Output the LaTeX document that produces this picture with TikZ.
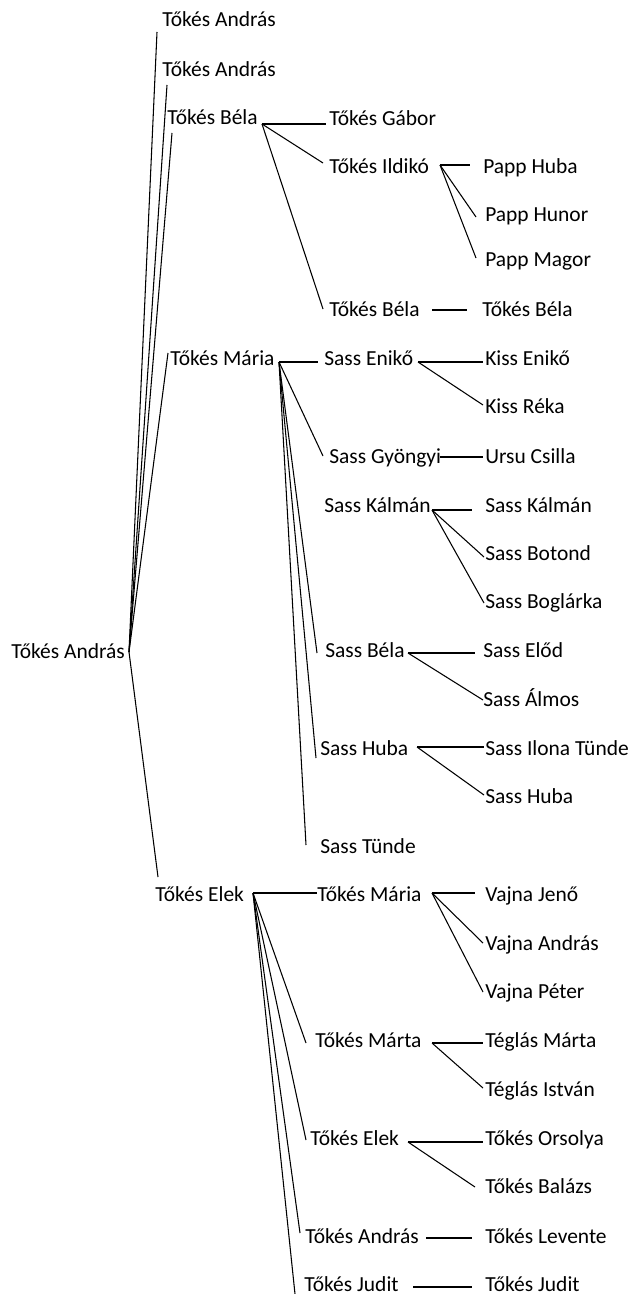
\documentclass[tikz,border=0pt]{standalone}
\usepackage{fontspec}
\setmainfont{Carlito}
\begin{document}
\begin{tikzpicture}[x=0.75pt,y=-0.75pt,
  person/.style={anchor=base west,inner sep=0pt,font=\fontsize{16.1}{18}\selectfont},
  link/.style={line width=0.8pt,black}]
\useasboundingbox (0,0) rectangle (629,1294);

% ---- people (text placed by baseline) ----
\node[person] (r)  at (11,658)  {Tőkés András};

\node[person] (a1) at (162,27)  {Tőkés András};
\node[person] (a2) at (162,77)  {Tőkés András};
\node[person] (a3) at (167,125) {Tőkés Béla};
\node[person] (a4) at (170,365) {Tőkés Mária};
\node[person] (a5) at (155,901) {Tőkés Elek};

\node[person] (b1) at (329,126) {Tőkés Gábor};
\node[person] (b2) at (329,174) {Tőkés Ildikó};
\node[person] (b3) at (329,316) {Tőkés Béla};

\node[person] (c1) at (483,174) {Papp Huba};
\node[person] (c2) at (485,222) {Papp Hunor};
\node[person] (c3) at (485,267) {Papp Magor};
\node[person] (c4) at (482,316) {Tőkés Béla};

\node[person] (d1) at (324,365) {Sass Enikő};
\node[person] (d2) at (329,463) {Sass Gyöngyi};
\node[person] (d3) at (324,512) {Sass Kálmán};
\node[person] (d4) at (325,657) {Sass Béla};
\node[person] (d5) at (320,755) {Sass Huba};
\node[person] (d6) at (320,853) {Sass Tünde};

\node[person] (e1)  at (485,365) {Kiss Enikő};
\node[person] (e2)  at (485,413) {Kiss Réka};
\node[person] (e3)  at (485,463) {Ursu Csilla};
\node[person] (e4)  at (485,512) {Sass Kálmán};
\node[person] (e5)  at (485,560) {Sass Botond};
\node[person] (e6)  at (485,608) {Sass Boglárka};
\node[person] (e7)  at (483,657) {Sass Előd};
\node[person] (e8)  at (483,706) {Sass Álmos};
\node[person] (e9)  at (485,755) {Sass Ilona Tünde};
\node[person] (e10) at (485,803) {Sass Huba};

\node[person] (f1) at (317,901)  {Tőkés Mária};
\node[person] (f2) at (315,1047) {Tőkés Márta};
\node[person] (f3) at (310,1145) {Tőkés Elek};
\node[person] (f4) at (305,1243) {Tőkés András};
\node[person] (f5) at (304,1291) {Tőkés Judit};

\node[person] (g1) at (485,901)  {Vajna Jenő};
\node[person] (g2) at (485,950)  {Vajna András};
\node[person] (g3) at (485,998)  {Vajna Péter};
\node[person] (g4) at (485,1047) {Téglás Márta};
\node[person] (g5) at (485,1096) {Téglás István};
\node[person] (g6) at (485,1145) {Tőkés Orsolya};
\node[person] (g7) at (485,1193) {Tőkés Balázs};
\node[person] (g8) at (485,1243) {Tőkés Levente};
\node[person] (g9) at (485,1291) {Tőkés Judit};

% ---- branch points (right of a parent) ----
\coordinate (r-o)  at (129,652);
\coordinate (a3-o) at (262,124);
\coordinate (a4-o) at (279,362);
\coordinate (a5-o) at (253,893);
\coordinate (b2-o) at (440,165);
\coordinate (b3-o) at (432,310);
\coordinate (d1-o) at (418,362);
\coordinate (d2-o) at (440,457);
\coordinate (d3-o) at (432,510);
\coordinate (d4-o) at (408,653);
\coordinate (d5-o) at (417,747);
\coordinate (f1-o) at (432,893);
\coordinate (f2-o) at (432,1043);
\coordinate (f3-o) at (408,1142);
\coordinate (f4-o) at (426,1238);
\coordinate (f5-o) at (413,1287);

% ---- arrival points (left of a child) ----
\coordinate (a1-i) at (157,32);
\coordinate (a2-i) at (167,85);
\coordinate (a3-i) at (172,133);
\coordinate (a4-i) at (168,353);
\coordinate (a5-i) at (158,877);
\coordinate (b1-i) at (326,124);
\coordinate (b2-i) at (323,163);
\coordinate (b3-i) at (323,309);
\coordinate (c1-i) at (470,165);
\coordinate (c2-i) at (476,217);
\coordinate (c3-i) at (476,258);
\coordinate (c4-i) at (467,310);
\coordinate (d1-i) at (318,362);
\coordinate (d2-i) at (323,456);
\coordinate (d4-i) at (317,653);
\coordinate (d5-i) at (316,758);
\coordinate (d6-i) at (306,845);
\coordinate (e1-i)  at (483,362);
\coordinate (e2-i)  at (483,405);
\coordinate (e3-i)  at (483,457);
\coordinate (e4-i)  at (472,510);
\coordinate (e5-i)  at (484,557);
\coordinate (e6-i)  at (484,603);
\coordinate (e7-i)  at (475,653);
\coordinate (e8-i)  at (483,700);
\coordinate (e9-i)  at (484,747);
\coordinate (e10-i) at (484,795);
\coordinate (f1-i) at (317,893);
\coordinate (f2-i) at (306,1043);
\coordinate (f3-i) at (306,1140);
\coordinate (f4-i) at (300,1233);
\coordinate (f5-i) at (295,1294);
\coordinate (g1-i) at (475,893);
\coordinate (g2-i) at (483,943);
\coordinate (g3-i) at (483,992);
\coordinate (g4-i) at (483,1043);
\coordinate (g5-i) at (483,1088);
\coordinate (g6-i) at (483,1142);
\coordinate (g7-i) at (475,1187);
\coordinate (g8-i) at (472,1238);
\coordinate (g9-i) at (472,1287);

% ---- connectors ----
\foreach \c in {a1,a2,a3,a4,a5} \draw[link] (r-o) -- (\c-i);
\foreach \c in {b1,b2,b3} \draw[link] (a3-o) -- (\c-i);
\foreach \c in {c1,c2,c3} \draw[link] (b2-o) -- (\c-i);
\draw[link] (b3-o) -- (c4-i);
\foreach \c in {d1,d2,d4,d5,d6} \draw[link] (a4-o) -- (\c-i);
\foreach \c in {e1,e2} \draw[link] (d1-o) -- (\c-i);
\draw[link] (d2-o) -- (e3-i);
\foreach \c in {e4,e5,e6} \draw[link] (d3-o) -- (\c-i);
\foreach \c in {e7,e8} \draw[link] (d4-o) -- (\c-i);
\foreach \c in {e9,e10} \draw[link] (d5-o) -- (\c-i);
\foreach \c in {f1,f2,f3,f4,f5} \draw[link] (a5-o) -- (\c-i);
\foreach \c in {g1,g2,g3} \draw[link] (f1-o) -- (\c-i);
\foreach \c in {g4,g5} \draw[link] (f2-o) -- (\c-i);
\foreach \c in {g6,g7} \draw[link] (f3-o) -- (\c-i);
\draw[link] (f4-o) -- (g8-i);
\draw[link] (f5-o) -- (g9-i);
\end{tikzpicture}
\end{document}
